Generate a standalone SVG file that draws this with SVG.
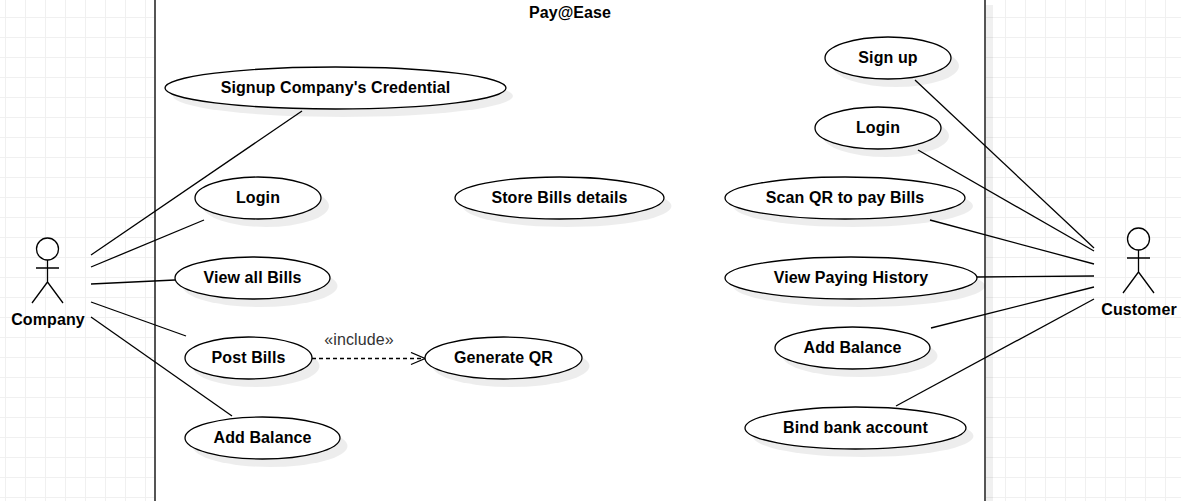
<svg xmlns="http://www.w3.org/2000/svg" width="1181" height="501" viewBox="0 0 1181 501">
<defs>
<pattern id="grid" x="5" y="17" width="60" height="60" patternUnits="userSpaceOnUse"><path d="M0.5 0V60M20.5 0V60M40.5 0V60M0 0.5H60M0 20.5H60M0 40.5H60" stroke="#f0f0f0" stroke-width="1" fill="none"/></pattern>
<marker id="open" markerWidth="18" markerHeight="14" refX="15" refY="7" orient="auto" markerUnits="userSpaceOnUse"><path d="M1 1L15 7L1 13" fill="none" stroke="#000" stroke-width="1.3"/></marker>
</defs>
<style>
.uc ellipse.s{fill:#000;fill-opacity:.07;stroke:none}
.uc ellipse.b{fill:#fff;stroke:#000;stroke-width:1.3}
text{font-family:"Liberation Sans",Arial,sans-serif;fill:#000;letter-spacing:.1px}
.uc text,.actor text{font-size:16px;font-weight:bold;text-anchor:middle}
.actor circle{fill:#fff;stroke:#000;stroke-width:1.3}
.actor path{fill:none;stroke:#000;stroke-width:1.3}
#connectors line{stroke:#000;stroke-width:1.3}
</style>
<rect width="1181" height="501" fill="#fff"/>
<rect width="1181" height="501" fill="url(#grid)"/>
<g id="boundary"><rect x="163" y="5" width="830" height="520" fill="#000" fill-opacity=".06"/><rect x="155" y="-20" width="830" height="541" fill="#fff" stroke="#555" stroke-width="2"/><text x="570" y="18" font-size="16" font-weight="bold" text-anchor="middle">Pay@Ease</text></g>
<g id="connectors">
<line x1="91" y1="255" x2="302" y2="111"/>
<line x1="91" y1="267" x2="204" y2="220"/>
<line x1="91" y1="284" x2="175" y2="280"/>
<line x1="91" y1="302" x2="186" y2="336"/>
<line x1="91" y1="317" x2="232" y2="416"/>
<line x1="1094" y1="248" x2="915" y2="80"/>
<line x1="1094" y1="251" x2="918" y2="150"/>
<line x1="1094" y1="264" x2="930" y2="220"/>
<line x1="1094" y1="276" x2="977" y2="277"/>
<line x1="1094" y1="287" x2="931" y2="328"/>
<line x1="1094" y1="299" x2="896" y2="406"/>
<line x1="312" y1="358.500" x2="425" y2="358.500" stroke-dasharray="4 3" marker-end="url(#open)"/>
</g>
<text id="include-label" x="359" y="345" font-size="16" text-anchor="middle" style="fill:#333">«include»</text>
<g id="company" class="actor"><circle cx="47.5" cy="249" r="11"/><path d="M47.5 260V282M36 268H59M47.5 282L32 303M47.5 282L63 303"/><text x="48" y="325">Company</text></g>
<g id="customer" class="actor"><circle cx="1138.5" cy="239" r="11"/><path d="M1138.5 250V272M1127 258H1150M1138.5 272L1123 293M1138.5 272L1154 293"/><text x="1139" y="315">Customer</text></g>
<g id="uc-signup-company" class="uc"><ellipse class="s" cx="343" cy="96" rx="170" ry="21"/><ellipse class="b" cx="335.500" cy="88" rx="170.500" ry="21"/><text x="335.500" y="93">Signup Company's Credential</text></g>
<g id="uc-login-company" class="uc"><ellipse class="s" cx="266" cy="206" rx="63" ry="21"/><ellipse class="b" cx="258" cy="198" rx="63" ry="21"/><text x="258" y="203">Login</text></g>
<g id="uc-view-bills" class="uc"><ellipse class="s" cx="260" cy="286" rx="77.500" ry="21"/><ellipse class="b" cx="252.500" cy="278" rx="77.500" ry="21"/><text x="252.500" y="283">View all Bills</text></g>
<g id="uc-post-bills" class="uc"><ellipse class="s" cx="256" cy="366" rx="63.500" ry="21"/><ellipse class="b" cx="248.500" cy="358" rx="63.500" ry="21"/><text x="248.500" y="363">Post Bills</text></g>
<g id="uc-add-balance-company" class="uc"><ellipse class="s" cx="270" cy="446" rx="77.500" ry="21"/><ellipse class="b" cx="262.500" cy="438" rx="77.500" ry="21"/><text x="262.500" y="443">Add Balance</text></g>
<g id="uc-store" class="uc"><ellipse class="s" cx="567" cy="206" rx="104.500" ry="21"/><ellipse class="b" cx="559.500" cy="198" rx="104.500" ry="21"/><text x="559.500" y="203">Store Bills details</text></g>
<g id="uc-generate" class="uc"><ellipse class="s" cx="511" cy="366" rx="78.500" ry="21"/><ellipse class="b" cx="503.500" cy="358" rx="78.500" ry="21"/><text x="503.500" y="363">Generate QR</text></g>
<g id="uc-signup" class="uc"><ellipse class="s" cx="896" cy="66" rx="63" ry="21"/><ellipse class="b" cx="888" cy="58" rx="63" ry="21"/><text x="888" y="63">Sign up</text></g>
<g id="uc-login-customer" class="uc"><ellipse class="s" cx="886" cy="136" rx="63" ry="21"/><ellipse class="b" cx="878" cy="128" rx="63" ry="21"/><text x="878" y="133">Login</text></g>
<g id="uc-scan" class="uc"><ellipse class="s" cx="853" cy="206" rx="120" ry="21"/><ellipse class="b" cx="845" cy="198" rx="120" ry="21"/><text x="845" y="203">Scan QR to pay Bills</text></g>
<g id="uc-history" class="uc"><ellipse class="s" cx="859" cy="286" rx="126" ry="21"/><ellipse class="b" cx="851" cy="278" rx="126" ry="21"/><text x="851" y="283">View Paying History</text></g>
<g id="uc-add-balance-customer" class="uc"><ellipse class="s" cx="860" cy="356" rx="77.500" ry="21"/><ellipse class="b" cx="852.500" cy="348" rx="77.500" ry="21"/><text x="852.500" y="353">Add Balance</text></g>
<g id="uc-bind" class="uc"><ellipse class="s" cx="863" cy="436" rx="110.500" ry="21"/><ellipse class="b" cx="855.500" cy="428" rx="110.500" ry="21"/><text x="855.500" y="433">Bind bank account</text></g>
</svg>
